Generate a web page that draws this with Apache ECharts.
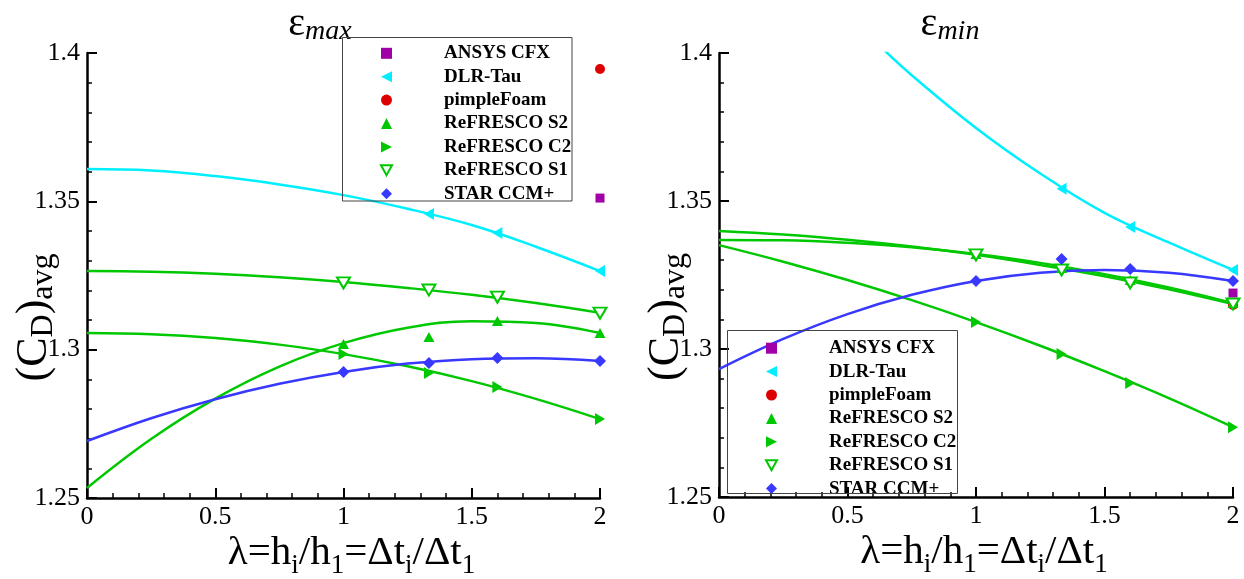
<!DOCTYPE html>
<html>
<head>
<meta charset="utf-8">
<script src="https://cdn.jsdelivr.net/npm/echarts@6/dist/echarts.min.js"></script>
<style>
html,body{margin:0;padding:0;background:#fff;}
#chart{width:1244px;height:579px;}
</style>
</head>
<body>
<div id="chart"></div>
<script>
// ---------- data ----------
const methods = ['ANSYS CFX', 'DLR-Tau', 'pimpleFoam', 'ReFRESCO S2', 'ReFRESCO C2', 'ReFRESCO S1', 'STAR CCM+'];
const xTicks = [0, 0.5, 1, 1.5, 2];
const yTicks = [1.25, 1.3, 1.35, 1.4];

const lambdaFit = [0, 0.25, 0.5, 0.75, 1, 1.25, 1.5, 1.75, 2];
const lambdaPts = [1, 1.333, 1.6, 2];
const lambdaDlr = [1.333, 1.6, 2];
const lambdaSingle = [2];

// eps_max panel
const maxAnsys = [1.3511];
const maxPimple = [1.3946];
const maxDlrPts = [1.3457, 1.3393, 1.3265];
const maxDlrFit = [1.3609, 1.3604, 1.3585, 1.3557, 1.3521, 1.3475, 1.3420, 1.3347, 1.3265];
const maxS2Pts = [1.3019, 1.3043, 1.3097, 1.3056];
const maxS2Fit = [1.2534, 1.2699, 1.2835, 1.2943, 1.3022, 1.3074, 1.3096, 1.3090, 1.3056];
const maxC2Pts = [1.2985, 1.2921, 1.2874, 1.2766];
const maxC2Fit = [1.3056, 1.3052, 1.3039, 1.3017, 1.2985, 1.2944, 1.2894, 1.2834, 1.2766];
const maxS1Pts = [1.3225, 1.3201, 1.3177, 1.3123];
const maxS1Fit = [1.3265, 1.3263, 1.3256, 1.3244, 1.3228, 1.3208, 1.3185, 1.3157, 1.3124];
const maxStarPts = [1.2925, 1.2955, 1.2972, 1.2962];
const maxStarFit = [1.2692, 1.2769, 1.2833, 1.2885, 1.2925, 1.2953, 1.2968, 1.2971, 1.2962];

// eps_min panel
const minAnsys = [1.3189];
const minPimple = [1.3149];
const lambdaDlrFitMin = [0.6, 0.75, 1, 1.25, 1.5, 1.75, 2];
const minDlrPts = [1.3541, 1.3412, 1.3267];
const minDlrFit = [1.4045, 1.3925, 1.3747, 1.3593, 1.3460, 1.3360, 1.3267];
const minS2Pts = [1.3321, 1.3274, 1.3233, 1.3155];
const minS2Fit = [1.3368, 1.3367, 1.3359, 1.3344, 1.3321, 1.3291, 1.3253, 1.3208, 1.3155];
const minC2Pts = [1.3091, 1.2983, 1.2885, 1.2736];
const minC2Fit = [1.3351, 1.3295, 1.3233, 1.3165, 1.3091, 1.3011, 1.2925, 1.2834, 1.2736];
const minS1Pts = [1.3318, 1.3267, 1.3223, 1.3152];
const minS1Fit = [1.3399, 1.3387, 1.3369, 1.3346, 1.3318, 1.3284, 1.3246, 1.3202, 1.3152];
const minStarPts = [1.3230, 1.3304, 1.3270, 1.3230];
const minStarFit = [1.2932, 1.3034, 1.3118, 1.3183, 1.3230, 1.3258, 1.3267, 1.3258, 1.3230];

// ---------- styles ----------
const SERIF = "'Liberation Serif', 'DejaVu Serif', serif";
const C = {
  ansys: '#a000a8', dlr: '#00efff', pimple: '#dd0000',
  green: '#00c800', star: '#3838ff'
};
const SYM = {
  ansys: {symbol: 'rect', size: 9, color: C.ansys},
  dlr: {symbol: 'path://M10,0 L0,5 L10,10 Z', size: [10, 12], color: C.dlr},
  pimple: {symbol: 'circle', size: 10, color: C.pimple},
  s2: {symbol: 'triangle', size: [11, 10], color: C.green},
  c2: {symbol: 'path://M0,0 L10,5 L0,10 Z', size: [10, 12], color: C.green},
  s1: {symbol: 'path://M0,0 L10,0 L5,9 Z', size: [13, 11], color: '#ffffff', border: C.green},
  star: {symbol: 'diamond', size: 12, color: C.star}
};

function pairs(xs, ys) { return xs.map((x, i) => [x, ys[i]]); }

function fitLine(name, xs, ys, color, panel) {
  return {
    type: 'line', name: name, xAxisIndex: panel, yAxisIndex: panel,
    data: pairs(xs, ys), smooth: 0.4, showSymbol: false, symbol: 'none',
    lineStyle: {color: color, width: 2.5}, z: 2, silent: true
  };
}
function marks(name, xs, ys, s, panel) {
  const st = {color: s.color, opacity: 1};
  if (s.border) { st.borderColor = s.border; st.borderWidth = 2; }
  return {
    type: 'scatter', name: name, xAxisIndex: panel, yAxisIndex: panel,
    data: pairs(xs, ys), symbol: s.symbol, symbolSize: s.size,
    itemStyle: st, z: 3, clip: false, silent: true
  };
}

function panelSeries(p, d) {
  return [
    fitLine('fit DLR ' + p, d.dlrFitX, d.dlrFit, C.dlr, p),
    fitLine('fit S1 ' + p, lambdaFit, d.s1Fit, C.green, p),
    fitLine('fit S2 ' + p, lambdaFit, d.s2Fit, C.green, p),
    fitLine('fit C2 ' + p, lambdaFit, d.c2Fit, C.green, p),
    fitLine('fit STAR ' + p, lambdaFit, d.starFit, C.star, p),
    marks(methods[0], lambdaSingle, d.ansys, SYM.ansys, p),
    marks(methods[1], lambdaDlr, d.dlrPts, SYM.dlr, p),
    marks(methods[2], lambdaSingle, d.pimple, SYM.pimple, p),
    marks(methods[3], lambdaPts, d.s2Pts, SYM.s2, p),
    marks(methods[4], lambdaPts, d.c2Pts, SYM.c2, p),
    marks(methods[5], lambdaPts, d.s1Pts, SYM.s1, p),
    marks(methods[6], lambdaPts, d.starPts, SYM.star, p)
  ];
}

const series = [].concat(
  panelSeries(0, {dlrFitX: lambdaFit, dlrFit: maxDlrFit, s1Fit: maxS1Fit, s2Fit: maxS2Fit, c2Fit: maxC2Fit, starFit: maxStarFit,
    ansys: maxAnsys, pimple: maxPimple, dlrPts: maxDlrPts, s2Pts: maxS2Pts, c2Pts: maxC2Pts, s1Pts: maxS1Pts, starPts: maxStarPts}),
  panelSeries(1, {dlrFitX: lambdaDlrFitMin, dlrFit: minDlrFit, s1Fit: minS1Fit, s2Fit: minS2Fit, c2Fit: minC2Fit, starFit: minStarFit,
    ansys: minAnsys, pimple: minPimple, dlrPts: minDlrPts, s2Pts: minS2Pts, c2Pts: minC2Pts, s1Pts: minS1Pts, starPts: minStarPts})
);

function xAxis(grid) {
  return {
    type: 'value', gridIndex: grid, min: xTicks[0], max: xTicks[xTicks.length - 1], interval: xTicks[1] - xTicks[0],
    name: '{n|λ=h}{s|i}{n|/h}{s|1}{n|=Δt}{s|i}{n|/Δt}{s|1}',
    nameLocation: 'middle', nameGap: 35, nameMoveOverlap: false,
    nameTextStyle: {
      padding: [0, 0, 0, 16],
      rich: {
        n: {fontFamily: SERIF, fontSize: 41, lineHeight: 41, color: '#000', verticalAlign: 'top'},
        s: {fontFamily: SERIF, fontSize: 27, lineHeight: 27, color: '#000', verticalAlign: 'top', padding: [19, 0, 0, 0]}
      }
    },
    axisLine: {show: true, onZero: false, lineStyle: {color: '#000', width: 2.5}},
    axisTick: {show: true, inside: true, length: 10, lineStyle: {color: '#000', width: 2}},
    minorTick: {show: true, splitNumber: 5, length: 5, lineStyle: {color: '#000', width: 1.5}},
    splitLine: {show: false},
    axisLabel: {color: '#000', fontFamily: SERIF, fontSize: 26, margin: 6}
  };
}
function yAxis(grid) {
  return {
    type: 'value', gridIndex: grid, min: yTicks[0], max: yTicks[yTicks.length - 1], interval: 0.05,
    name: '{n|(C}{s|D}{n|)}{s|avg}',
    nameLocation: 'middle', nameGap: 31, nameMoveOverlap: false,
    nameTextStyle: {
      padding: [0, 84, 0, 0],
      rich: {
        n: {fontFamily: SERIF, fontSize: 44, lineHeight: 44, color: '#000', verticalAlign: 'top'},
        s: {fontFamily: SERIF, fontSize: 32, lineHeight: 32, color: '#000', verticalAlign: 'top', padding: [16, 0, 0, 0]}
      }
    },
    axisLine: {show: true, onZero: false, lineStyle: {color: '#000', width: 2.5}},
    axisTick: {show: true, inside: true, length: 10, lineStyle: {color: '#000', width: 2}},
    minorTick: {show: true, splitNumber: 5, length: 5, lineStyle: {color: '#000', width: 1.5}},
    splitLine: {show: false},
    axisLabel: {color: '#000', fontFamily: SERIF, fontSize: 26, margin: 7}
  };
}

function legend(left, top) {
  return {
    orient: 'vertical', left: left, top: top, padding: 0,
    itemWidth: 11, itemHeight: 11, itemGap: 4.4,
    selectedMode: false,
    data: methods.map((m, i) => {
      const o = {name: m};
      if (i === 5) o.itemStyle = {color: '#ffffff', borderColor: C.green, borderWidth: 2};
      return o;
    }),
    textStyle: {fontFamily: SERIF, fontWeight: 'bold', fontSize: 19, color: '#000', lineHeight: 14, padding: [0, 0, 0, 47]}
  };
}

function titleOf(sub, cx) {
  return {text: '{e|ε}{s|' + sub + '}', left: cx, top: 4, textAlign: 'center', padding: 0,
    textStyle: {fontWeight: 'normal', rich: {
      e: {fontFamily: SERIF, fontSize: 40, lineHeight: 40, fontWeight: 'normal', color: '#000', verticalAlign: 'top'},
      s: {fontFamily: SERIF, fontSize: 28, lineHeight: 28, fontWeight: 'normal', fontStyle: 'italic', color: '#000', verticalAlign: 'top', padding: [14, 0, 0, 0]}
    }}};
}

const option = {
  backgroundColor: '#ffffff',
  animation: false,
  title: [titleOf('max', 320), titleOf('min', 950)],
  grid: [
    {left: 87, top: 53, width: 513, height: 445, containLabel: false, outerBoundsMode: 'none'},
    {left: 719, top: 53, width: 514, height: 444, containLabel: false, outerBoundsMode: 'none'}
  ],
  xAxis: [xAxis(0), xAxis(1)],
  yAxis: [yAxis(0), yAxis(1)],
  legend: [legend(380, 43.8), legend(765, 338.7)],
  graphic: [
    {type: 'rect', shape: {x: 342.5, y: 37.5, width: 229.5, height: 163.5}, style: {fill: null, stroke: '#444', lineWidth: 1}, z: 10, silent: true},
    {type: 'rect', shape: {x: 727.5, y: 330.5, width: 230, height: 163}, style: {fill: null, stroke: '#444', lineWidth: 1}, z: 10, silent: true}
  ],
  series: series
};

const chart = echarts.init(document.getElementById('chart'), null, {renderer: 'canvas'});
chart.setOption(option);
</script>
</body>
</html>
